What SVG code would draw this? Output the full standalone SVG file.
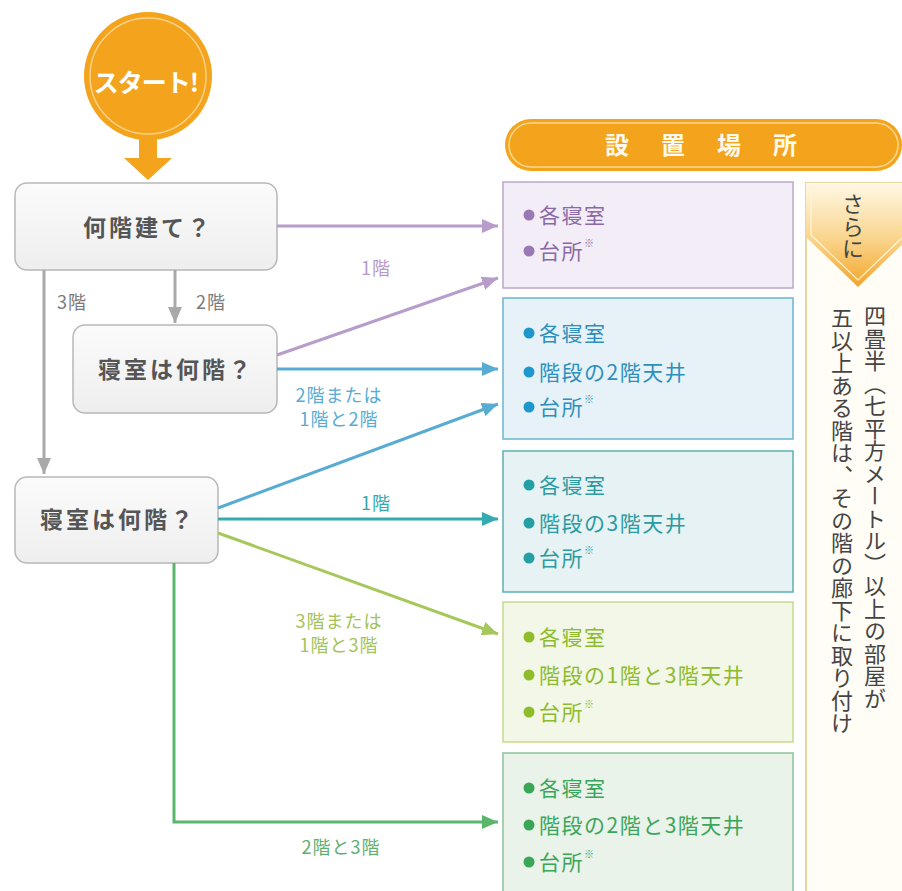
<svg xmlns="http://www.w3.org/2000/svg" width="902" height="891" viewBox="0 0 902 891">
  <defs>
    <linearGradient id="gBox" x1="0" y1="0" x2="0" y2="1">
      <stop offset="0" stop-color="#fbfbfb"/>
      <stop offset="1" stop-color="#eeeeee"/>
    </linearGradient>
    <linearGradient id="gChev" x1="0" y1="0" x2="0" y2="1">
      <stop offset="0" stop-color="#fff8e6"/>
      <stop offset="0.55" stop-color="#f9d48a"/>
      <stop offset="1" stop-color="#f2a52a"/>
    </linearGradient>
    <marker id="mGray" markerUnits="userSpaceOnUse" markerWidth="16" markerHeight="14" refX="16" refY="7" orient="auto"><path d="M0,0 L16,7 L0,14 z" fill="#a9a9a9"/></marker>
    <marker id="mPurple" markerUnits="userSpaceOnUse" markerWidth="16" markerHeight="14" refX="16" refY="7" orient="auto"><path d="M0,0 L16,7 L0,14 z" fill="#b79dcb"/></marker>
    <marker id="mBlue" markerUnits="userSpaceOnUse" markerWidth="16" markerHeight="14" refX="16" refY="7" orient="auto"><path d="M0,0 L16,7 L0,14 z" fill="#58acd3"/></marker>
    <marker id="mTeal" markerUnits="userSpaceOnUse" markerWidth="16" markerHeight="14" refX="16" refY="7" orient="auto"><path d="M0,0 L16,7 L0,14 z" fill="#35aab0"/></marker>
    <marker id="mYg" markerUnits="userSpaceOnUse" markerWidth="16" markerHeight="14" refX="16" refY="7" orient="auto"><path d="M0,0 L16,7 L0,14 z" fill="#a6c85a"/></marker>
    <marker id="mGreen" markerUnits="userSpaceOnUse" markerWidth="16" markerHeight="14" refX="16" refY="7" orient="auto"><path d="M0,0 L16,7 L0,14 z" fill="#5bb56b"/></marker>
  </defs>
  <style>
    text { font-family: "Noto Sans CJK JP", "Noto Sans", sans-serif; }
    .q { fill: url(#gBox); stroke: #b8b8b8; stroke-width: 1.5; }
    .qt { font-size: 23px; font-weight: bold; fill: #555; text-anchor: middle; letter-spacing: 3px; }
    .ln { fill: none; stroke-width: 3; }
    .lbl { font-size: 18px; letter-spacing: 1px; text-anchor: middle; }
    .li { font-size: 21px; letter-spacing: 1.5px; }
    .sup { font-size: 10px; }
    .vt { font-size: 22px; fill: #444; writing-mode: vertical-rl; letter-spacing: 0.5px; }
  </style>
  <rect width="902" height="891" fill="#ffffff"/>

  <g id="start">
    <circle cx="148" cy="76" r="64" fill="#f3a41c"/>
    <circle cx="148" cy="76" r="58" fill="none" stroke="#f9d28a" stroke-width="1.5"/>
    <path d="M139,136 L157,136 L157,158 L172,158 L148,180 L124,158 L139,158 z" fill="#f3a41c"/>
    <text x="146" y="92" font-size="25" font-weight="bold" fill="#ffffff" text-anchor="middle" letter-spacing="-1">スタート!</text>
  </g>

  <g id="q1">
    <rect class="q" x="15" y="183" width="262" height="87" rx="12"/>
    <text class="qt" x="148" y="236">何階建て？</text>
  </g>
  <g id="q2">
    <rect class="q" x="73" y="325" width="204" height="88" rx="12"/>
    <text class="qt" x="176" y="378">寝室は何階？</text>
  </g>
  <g id="q3">
    <rect class="q" x="15" y="477" width="203" height="86" rx="12"/>
    <text class="qt" x="118" y="528">寝室は何階？</text>
  </g>

  <g id="connectors">
    <line class="ln" x1="44" y1="270" x2="44" y2="474" stroke="#a9a9a9" marker-end="url(#mGray)"/>
    <line class="ln" x1="175" y1="270" x2="175" y2="323" stroke="#a9a9a9" marker-end="url(#mGray)"/>
    <line class="ln" x1="277" y1="226" x2="498" y2="226" stroke="#b79dcb" marker-end="url(#mPurple)"/>
    <line class="ln" x1="277" y1="355" x2="498" y2="278" stroke="#b79dcb" marker-end="url(#mPurple)"/>
    <line class="ln" x1="277" y1="369" x2="498" y2="369" stroke="#58acd3" marker-end="url(#mBlue)"/>
    <line class="ln" x1="218" y1="508" x2="498" y2="404" stroke="#58acd3" marker-end="url(#mBlue)"/>
    <line class="ln" x1="218" y1="519" x2="498" y2="519" stroke="#35aab0" marker-end="url(#mTeal)"/>
    <line class="ln" x1="218" y1="533" x2="498" y2="634" stroke="#a6c85a" marker-end="url(#mYg)"/>
    <polyline class="ln" points="174,563 174,822 498,822" stroke="#5bb56b" marker-end="url(#mGreen)"/>

    <text class="lbl" x="72" y="309" fill="#7a7a7a">3階</text>
    <text class="lbl" x="211" y="309" fill="#7a7a7a">2階</text>
    <text class="lbl" x="376" y="275" fill="#b59bc9">1階</text>
    <text class="lbl" x="339" y="402" fill="#58acd3">2階または</text>
    <text class="lbl" x="339" y="426" fill="#58acd3">1階と2階</text>
    <text class="lbl" x="376" y="510" fill="#35a8ae">1階</text>
    <text class="lbl" x="339" y="628" fill="#a3c35a">3階または</text>
    <text class="lbl" x="339" y="652" fill="#a3c35a">1階と3階</text>
    <text class="lbl" x="341" y="854" fill="#5faf6d">2階と3階</text>
  </g>

  <g id="heading">
    <rect x="505" y="119" width="397" height="52" rx="26" fill="#f3a41c"/>
    <rect x="509" y="123" width="389" height="44" rx="22" fill="none" stroke="#fbd88e" stroke-width="1.5"/>
    <text x="605" y="154" font-size="24" font-weight="bold" fill="#fff9ee" letter-spacing="32">設置場所</text>
  </g>

  <g id="locA">
    <rect x="503" y="182" width="290" height="106" fill="#f2edf6" stroke="#bba8cb" stroke-width="1.5"/>
    <circle cx="529" cy="215" r="5.5" fill="#9a78b6"/>
    <text class="li" x="539" y="223" fill="#8a69a6">各寝室</text>
    <circle cx="529" cy="251" r="5.5" fill="#9a78b6"/>
    <text class="li" x="539" y="259" fill="#8a69a6">台所<tspan class="sup" dy="-12">※</tspan></text>
  </g>
  <g id="locB">
    <rect x="503" y="298" width="290" height="141" fill="#e6f2f8" stroke="#6ab6d0" stroke-width="1.5"/>
    <circle cx="529" cy="333" r="5.5" fill="#1d97cc"/>
    <text class="li" x="539" y="341" fill="#2c8fbe">各寝室</text>
    <circle cx="529" cy="372" r="5.5" fill="#1d97cc"/>
    <text class="li" x="539" y="380" fill="#2c8fbe">階段の2階天井</text>
    <circle cx="529" cy="407" r="5.5" fill="#1d97cc"/>
    <text class="li" x="539" y="415" fill="#2c8fbe">台所<tspan class="sup" dy="-12">※</tspan></text>
  </g>
  <g id="locC">
    <rect x="503" y="451" width="290" height="141" fill="#e7f2f5" stroke="#5cb0b2" stroke-width="1.5"/>
    <circle cx="529" cy="485" r="5.5" fill="#22a0a4"/>
    <text class="li" x="539" y="493" fill="#2a9ba0">各寝室</text>
    <circle cx="529" cy="523" r="5.5" fill="#22a0a4"/>
    <text class="li" x="539" y="531" fill="#2a9ba0">階段の3階天井</text>
    <circle cx="529" cy="558" r="5.5" fill="#22a0a4"/>
    <text class="li" x="539" y="566" fill="#2a9ba0">台所<tspan class="sup" dy="-12">※</tspan></text>
  </g>
  <g id="locD">
    <rect x="503" y="602" width="290" height="140" fill="#f3f7e7" stroke="#c6da8a" stroke-width="1.5"/>
    <circle cx="529" cy="637" r="5.5" fill="#8ebd2c"/>
    <text class="li" x="539" y="645" fill="#8dbb2e">各寝室</text>
    <circle cx="529" cy="675" r="5.5" fill="#8ebd2c"/>
    <text class="li" x="539" y="683" fill="#8dbb2e">階段の1階と3階天井</text>
    <circle cx="529" cy="712" r="5.5" fill="#8ebd2c"/>
    <text class="li" x="539" y="720" fill="#8dbb2e">台所<tspan class="sup" dy="-12">※</tspan></text>
  </g>
  <g id="locE">
    <rect x="503" y="753" width="290" height="150" fill="#e9f3ea" stroke="#8cc49a" stroke-width="1.5"/>
    <circle cx="529" cy="788" r="5.5" fill="#3aa657"/>
    <text class="li" x="539" y="796" fill="#3aa65a">各寝室</text>
    <circle cx="529" cy="825" r="5.5" fill="#3aa657"/>
    <text class="li" x="539" y="833" fill="#3aa65a">階段の2階と3階天井</text>
    <circle cx="529" cy="862" r="5.5" fill="#3aa657"/>
    <text class="li" x="539" y="870" fill="#3aa65a">台所<tspan class="sup" dy="-12">※</tspan></text>
  </g>

  <g id="further">
    <rect x="806" y="183" width="110" height="720" fill="#fffdf6" stroke="#e6d89c" stroke-width="2"/>
    <path d="M806,183 L910,183 L910,237 L858,287 L806,237 z" fill="url(#gChev)"/>
    <path d="M811,188 L905,188 L905,235 L858,280 L811,235 z" fill="none" stroke="#fff3d6" stroke-width="1.2"/>
    <text class="vt" x="853" y="193">さらに</text>
    <text class="vt" x="875" y="305">四畳半（七平方メートル）以上の部屋が</text>
    <text class="vt" x="842" y="307">五以上ある階は、その階の廊下に取り付け</text>
  </g>
</svg>
